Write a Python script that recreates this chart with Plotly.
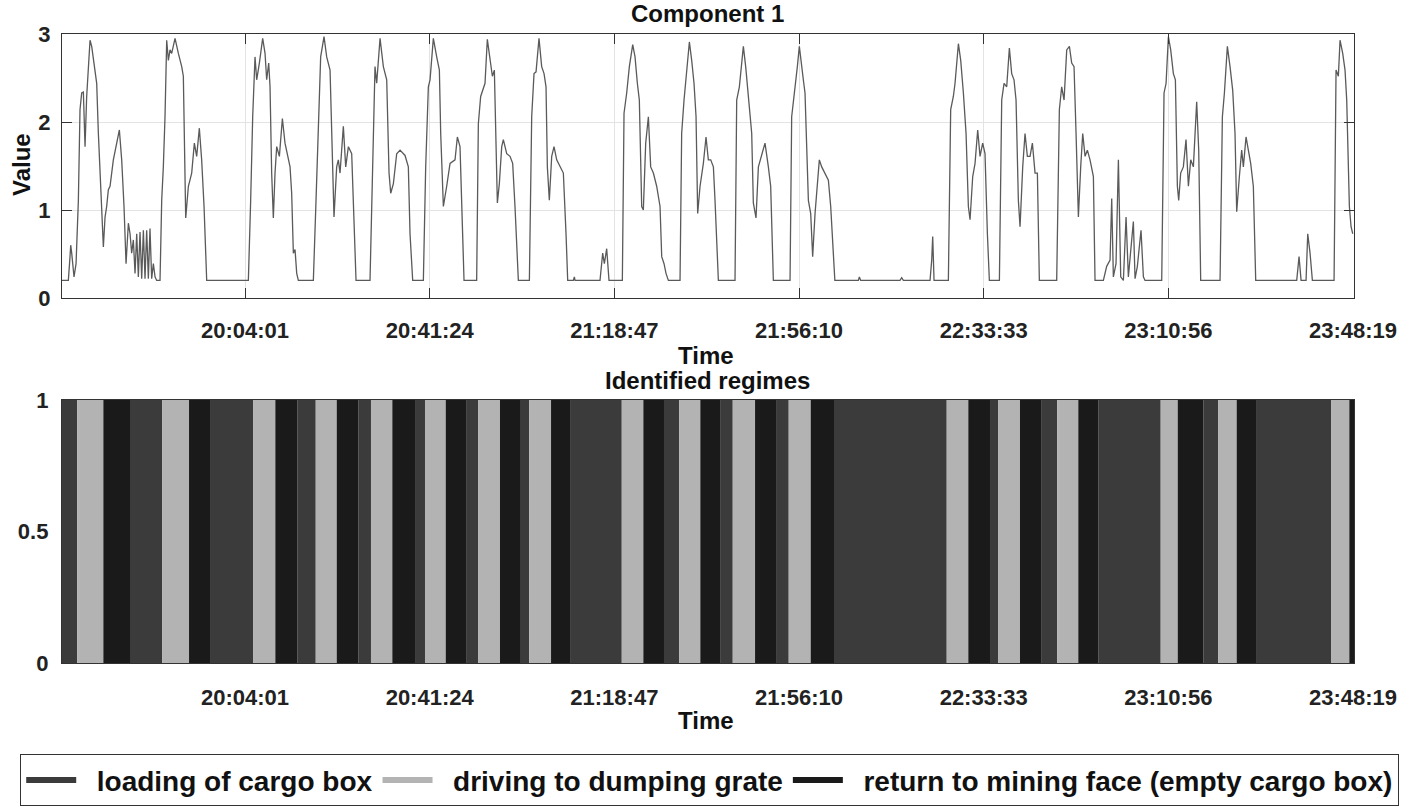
import pandas as pd
import plotly.graph_objects as go

# Component 1 signal: minutes after 19:00 and value
t_min = [
    26.97, 28.25, 28.59, 28.73, 28.93, 29.27, 29.40, 29.81, 30.28, 30.61, 30.95, 31.29, 31.63, 31.96,
    32.30, 32.64, 32.98, 33.31, 33.65, 33.99, 34.33, 34.66, 35.00, 35.34, 35.68, 36.01, 36.35, 36.69,
    37.36, 38.04, 38.58, 39.05, 39.52, 39.93, 40.40, 40.74, 41.07, 41.41, 41.75, 42.09, 42.42, 42.76,
    43.10, 43.44, 43.77, 44.11, 44.45, 44.78, 45.12, 45.46, 45.80, 46.13, 46.81, 47.15, 47.48, 47.82,
    48.16, 48.50, 48.83, 49.17, 49.85, 50.52, 51.20, 51.53, 51.87, 52.01, 52.55, 53.22, 53.76, 54.23,
    54.77, 55.24, 55.72, 56.26, 64.02, 64.69, 65.16, 65.57, 66.04, 66.38, 66.92, 67.59, 68.07, 68.40,
    68.81, 69.08, 69.41, 69.75, 70.09, 70.43, 70.97, 71.58, 72.11, 72.59, 73.13, 73.46, 73.80, 74.14,
    74.48, 74.81, 77.85, 78.39, 78.86, 79.33, 80.01, 80.55, 81.23, 81.70, 82.03, 82.57, 82.91, 83.25,
    83.92, 84.40, 84.94, 85.61, 85.95, 86.49, 89.32, 89.66, 89.99, 90.33, 90.67, 91.35, 92.02, 92.70,
    93.17, 93.51, 94.05, 94.72, 95.40, 96.41, 97.08, 97.42, 97.96, 100.12, 100.59, 101.13, 101.47, 102.14,
    102.82, 103.36, 103.63, 104.17, 104.84, 105.52, 106.53, 107.00, 107.54, 107.88, 108.35, 110.91, 111.25, 111.72,
    112.26, 112.60, 113.07, 113.61, 114.09, 114.49, 114.83, 115.10, 115.50, 115.98, 116.31, 116.99, 117.66, 118.20,
    118.67, 119.35, 121.58, 122.05, 122.52, 122.93, 123.53, 124.07, 124.55, 124.95, 125.22, 125.62, 126.10, 126.57,
    127.11, 127.78, 128.46, 129.00, 129.34, 130.48, 130.69, 130.82, 135.88, 136.42, 136.76, 137.23, 137.70, 140.40,
    140.74, 141.28, 141.82, 142.50, 142.97, 143.44, 143.84, 144.32, 144.65, 145.13, 145.67, 146.14, 146.68, 147.35,
    148.03, 148.37, 148.84, 149.24, 149.72, 152.08, 152.41, 152.89, 153.43, 153.97, 154.44, 154.91, 155.32, 155.65,
    156.13, 156.80, 157.34, 157.81, 158.29, 158.83, 159.16, 159.84, 163.21, 163.55, 164.09, 164.56, 164.90, 165.37,
    165.91, 166.59, 166.92, 167.46, 167.94, 168.61, 169.28, 169.96, 170.43, 170.97, 174.35, 174.68, 175.36, 175.83,
    176.23, 176.71, 177.04, 177.38, 178.06, 178.53, 178.93, 179.41, 179.88, 180.28, 180.76, 181.43, 182.11, 182.58,
    183.42, 188.18, 188.38, 188.65, 196.61, 196.95, 197.29, 202.69, 203.03, 203.23, 203.50, 206.40, 206.87, 207.41,
    207.75, 208.43, 208.90, 209.44, 209.98, 210.45, 210.79, 211.33, 211.80, 212.34, 212.81, 213.35, 213.82, 214.30,
    214.70, 216.73, 217.20, 217.67, 218.21, 218.75, 219.22, 219.69, 220.10, 220.57, 220.91, 221.45, 221.92, 222.39,
    222.93, 223.41, 223.95, 224.42, 224.82, 228.33, 228.87, 229.34, 229.82, 230.36, 230.90, 231.37, 231.84, 232.25,
    232.72, 233.19, 233.60, 234.07, 234.54, 235.08, 235.76, 236.09, 237.78, 238.45, 239.13, 239.47, 239.80, 240.34,
    240.82, 241.29, 241.83, 242.37, 242.84, 243.85, 244.19, 244.66, 245.40, 245.88, 246.21, 249.59, 250.06, 250.47,
    250.94, 251.41, 251.95, 252.36, 252.76, 253.03, 253.43, 253.97, 254.51, 254.99, 255.46, 256.00, 256.67, 257.08,
    257.48, 261.40, 261.87, 262.28, 262.88, 263.42, 263.96, 264.43, 264.77, 265.31, 265.78, 266.12, 266.66, 267.13,
    267.60, 268.14, 268.62, 276.92, 277.39, 277.80, 278.81, 279.15, 279.62, 280.09, 284.48, 284.88, 285.35, 285.69,
    286.23, 286.70, 287.04, 287.58, 287.92, 288.26,
]
value = [
    0.20, 0.20, 0.47, 0.60, 0.51, 0.24, 0.24, 0.39, 1.11, 2.14, 2.33, 2.34, 1.72, 2.29,
    2.63, 2.93, 2.86, 2.72, 2.63, 2.44, 1.87, 1.42, 0.92, 0.58, 0.92, 1.04, 1.23, 1.27,
    1.57, 1.76, 1.91, 1.57, 1.04, 0.39, 0.85, 0.73, 0.51, 0.66, 0.28, 0.73, 0.24, 0.75,
    0.22, 0.77, 0.22, 0.77, 0.22, 0.79, 0.22, 0.39, 0.24, 0.20, 0.20, 1.11, 1.49, 2.06,
    2.93, 2.70, 2.82, 2.78, 2.95, 2.78, 2.63, 2.52, 1.49, 0.91, 1.27, 1.42, 1.76, 1.61,
    1.93, 1.57, 1.04, 0.20, 0.20, 0.20, 1.11, 2.06, 2.74, 2.48, 2.67, 2.95, 2.78, 2.48,
    2.67, 2.40, 1.42, 0.91, 1.42, 1.72, 1.61, 2.04, 1.76, 1.64, 1.49, 1.19, 0.51, 0.55,
    0.28, 0.20, 0.20, 1.11, 2.06, 2.74, 2.97, 2.74, 2.59, 1.57, 0.92, 1.49, 1.57, 1.42,
    1.95, 1.49, 1.72, 1.64, 1.11, 0.20, 0.20, 1.11, 2.06, 2.63, 2.44, 2.95, 2.63, 2.48,
    1.42, 1.19, 1.30, 1.64, 1.68, 1.62, 1.49, 0.73, 0.20, 0.20, 1.49, 2.40, 2.48, 2.95,
    2.74, 2.59, 1.87, 1.04, 1.27, 1.53, 1.57, 1.83, 1.72, 1.11, 0.20, 0.20, 1.98, 2.29,
    2.40, 2.44, 2.94, 2.70, 2.52, 2.59, 1.68, 1.08, 1.30, 1.72, 1.80, 1.64, 1.61, 1.53,
    1.04, 0.20, 0.20, 2.06, 2.55, 2.57, 2.95, 2.63, 2.55, 2.40, 1.49, 1.11, 1.61, 1.72,
    1.57, 1.49, 1.42, 0.73, 0.20, 0.20, 0.24, 0.20, 0.20, 0.51, 0.39, 0.56, 0.20, 0.20,
    2.10, 2.33, 2.63, 2.88, 2.74, 2.44, 2.25, 1.04, 1.00, 1.76, 2.06, 1.49, 1.42, 1.27,
    1.04, 0.47, 0.39, 0.28, 0.20, 0.20, 1.87, 2.25, 2.63, 2.91, 2.70, 2.44, 2.06, 0.96,
    1.27, 1.53, 1.83, 1.57, 1.57, 1.49, 1.11, 0.20, 0.20, 2.25, 2.40, 2.63, 2.86, 2.63,
    2.33, 1.87, 1.08, 0.91, 1.49, 1.64, 1.76, 1.49, 1.27, 0.20, 0.20, 2.06, 2.36, 2.63,
    2.86, 2.67, 2.48, 2.33, 1.11, 0.96, 0.47, 0.96, 1.27, 1.57, 1.49, 1.42, 1.34, 1.04,
    0.20, 0.20, 0.24, 0.20, 0.20, 0.23, 0.20, 0.20, 0.43, 0.70, 0.20, 0.20, 2.14, 2.29,
    2.44, 2.89, 2.70, 2.33, 1.87, 1.04, 0.89, 1.38, 1.53, 1.91, 1.61, 1.76, 1.64, 0.73,
    0.20, 0.20, 2.25, 2.44, 2.40, 2.84, 2.55, 2.48, 2.25, 1.11, 0.81, 1.49, 1.87, 1.61,
    1.61, 1.76, 1.42, 1.42, 0.20, 0.20, 2.14, 2.40, 2.25, 2.82, 2.86, 2.67, 2.63, 1.87,
    0.92, 1.49, 1.87, 1.61, 1.68, 1.57, 1.38, 0.20, 0.20, 0.36, 0.43, 1.13, 0.24, 0.39,
    1.57, 0.24, 0.20, 0.92, 0.24, 0.87, 0.22, 0.36, 0.77, 0.24, 0.20, 0.20, 2.33, 2.44,
    2.97, 2.82, 2.55, 2.48, 1.27, 1.11, 1.42, 1.49, 1.80, 1.27, 1.57, 1.49, 2.23, 1.68,
    0.20, 0.20, 2.06, 2.33, 2.86, 2.63, 2.36, 1.87, 0.98, 1.38, 1.68, 1.49, 1.83, 1.68,
    1.53, 1.27, 0.20, 0.20, 0.47, 0.20, 0.20, 0.73, 0.51, 0.20, 0.20, 2.59, 2.52, 2.93,
    2.78, 2.59, 2.25, 1.04, 0.81, 0.73,
]

# Identified regimes: segment edges and regime code per segment
regime_edges = [
    '19:26:58', '19:30:04', '19:35:20', '19:40:44', '19:47:16', '19:52:41', '19:56:56',
    '20:05:42', '20:10:09', '20:14:36', '20:18:20', '20:22:35', '20:26:57', '20:29:31',
    '20:33:50', '20:38:26', '20:40:27', '20:44:39', '20:48:54', '20:51:15', '20:55:38',
    '20:59:41', '21:01:34', '21:05:58', '21:09:49', '21:20:17', '21:24:39', '21:28:50',
    '21:31:56', '21:36:11', '21:40:19', '21:42:45', '21:47:16', '21:51:31', '21:54:05',
    '21:58:32', '22:03:15', '22:26:04', '22:30:26', '22:34:50', '22:36:31', '22:40:54',
    '22:45:18', '22:48:27', '22:52:42', '22:56:45', '23:09:23', '23:12:50', '23:18:01',
    '23:21:03', '23:24:46', '23:28:41', '23:43:52', '23:47:34', '23:48:31',
]
regime_code = [
    0, 1, 2, 0, 1, 2, 0, 1, 2, 0, 1, 2, 0, 1, 2, 0, 1, 2,
    0, 1, 2, 0, 1, 2, 0, 1, 2, 0, 1, 2, 0, 1, 2, 0, 1, 2,
    0, 1, 2, 0, 1, 2, 0, 1, 2, 0, 1, 2, 0, 1, 2, 0, 1, 2,
]
regime_names = ['loading of cargo box', 'driving to dumping grate',
                'return to mining face (empty cargo box)']
regime_colors = ['#3b3b3b', '#b3b3b3', '#1a1a1a']

tick_labels = ['20:04:01', '20:41:24', '21:18:47', '21:56:10', '22:33:33', '23:10:56', '23:48:19']

DAY = '2000-01-01 '
FONT = 'Liberation Sans, Arial, sans-serif'

times = pd.Timestamp(DAY + '19:00:00') + pd.to_timedelta(t_min, unit='min')
edges = pd.to_datetime([DAY + s for s in regime_edges])
starts, ends = edges[:-1], edges[1:]
mids = starts + (ends - starts) / 2
widths = (ends - starts).total_seconds() * 1000
tick_vals = pd.to_datetime([DAY + s for s in tick_labels])
x_range = [edges[0], edges[-1]]

fig = go.Figure()

fig.add_trace(go.Scatter(x=times, y=value, mode='lines',
                         line=dict(color='#5a5a5a', width=1.3),
                         showlegend=False, xaxis='x', yaxis='y'))

for k in range(3):
    idx = [i for i, c in enumerate(regime_code) if c == k]
    fig.add_trace(go.Bar(x=mids[idx], y=[1] * len(idx), base=0, width=widths[idx],
                         marker=dict(color=regime_colors[k], line=dict(width=0)),
                         showlegend=False, xaxis='x2', yaxis='y2'))

# legend entries drawn as thick line samples
for k in range(3):
    fig.add_trace(go.Scatter(x=[None], y=[None], mode='lines',
                             name='&nbsp;&nbsp;' + regime_names[k],
                             line=dict(color=regime_colors[k], width=6),
                             xaxis='x2', yaxis='y2'))

axis_common = dict(showline=True, linecolor='#333333', linewidth=1.3, mirror=True,
                   automargin=False,
                   tickfont=dict(family=FONT, size=22, color='#222222', weight='bold'))

# zero page margins so the legend may use the full width; axes placed by domain
x_dom = [0.04385, 0.95757]

fig.update_layout(
    width=1414, height=812, autosize=False,
    margin=dict(l=0, r=0, t=0, b=0, autoexpand=False),
    paper_bgcolor='white', plot_bgcolor='white',
    barmode='overlay',
    xaxis=dict(type='date', range=x_range, domain=x_dom, anchor='y',
               tickvals=tick_vals, ticktext=tick_labels,
               showgrid=True, gridcolor='#e3e3e3', gridwidth=1,
               ticks='inside', ticklen=10, tickcolor='#333333', ticklabelstandoff=12,
               **dict(axis_common, mirror='ticks')),
    yaxis=dict(range=[0, 3], domain=[0.6330, 0.9581], anchor='x',
               tickvals=[0, 1, 2, 3], showgrid=True, gridcolor='#e3e3e3', zeroline=False,
               ticks='inside', ticklen=10, tickcolor='#333333', ticklabelstandoff=6,
               **dict(axis_common, mirror='ticks')),
    xaxis2=dict(type='date', range=x_range, domain=x_dom, anchor='y2',
                tickvals=tick_vals, ticktext=tick_labels, showgrid=False,
                ticks='', ticklabelstandoff=14, **axis_common),
    yaxis2=dict(range=[0, 1], domain=[0.1835, 0.5074], anchor='x2',
                tickvals=[0, 0.5, 1], ticktext=['0', '0.5', '1'], showgrid=False, zeroline=False,
                ticks='', ticklabelstandoff=8, **axis_common),
    legend=dict(orientation='h', x=0.5017, xanchor='center', y=0.0394, yanchor='middle',
                bordercolor='#333333', borderwidth=1.3, bgcolor='white',
                font=dict(family=FONT, size=28, color='#111111', weight='bold'),
                itemwidth=50, tracegroupgap=0),
)

title_font = dict(family=FONT, size=24, color='#111111', weight='bold')
annots = [
    ('Component 1', 0.5007, 0.9828, 0),
    ('Time', 0.4993, 0.5628, 0),
    ('Identified regimes', 0.5007, 0.5308, 0),
    ('Time', 0.4993, 0.1133, 0),
    ('Value', 0.0156, 0.7968, -90),
]
for text, x, y, ang in annots:
    fig.add_annotation(text=text, x=x, y=y, xref='paper', yref='paper',
                       xanchor='center', yanchor='middle', showarrow=False,
                       textangle=ang, font=title_font)

# the page's default body margin would shift the figure by 8px
fig.write_html('out.html', config={'displayModeBar': False},
               post_script="document.body.style.margin = '0';")
